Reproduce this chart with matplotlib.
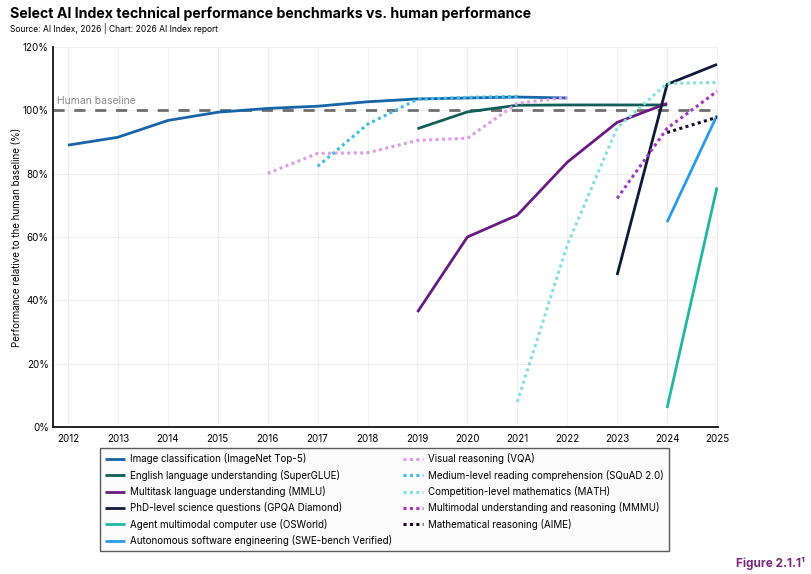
import matplotlib
matplotlib.use("Agg")
import matplotlib.pyplot as plt

plt.rcParams['font.family'] = ['Inter', 'DejaVu Sans']

years_imagenet = [2012, 2013, 2014, 2015, 2016, 2017, 2018, 2019, 2020, 2021, 2022]
imagenet = [89.0, 91.5, 96.8, 99.4, 100.6, 101.3, 102.7, 103.6, 103.9, 104.2, 103.9]

years_superglue = [2019, 2020, 2021, 2022, 2023, 2024]
superglue = [94.2, 99.5, 101.6, 101.7, 101.7, 101.7]

years_mmlu = [2019, 2020, 2021, 2022, 2023, 2024]
mmlu = [36.3, 60.0, 66.9, 83.6, 96.2, 102.2]

years_gpqa = [2023, 2024, 2025]
gpqa = [48.0, 108.2, 114.5]

years_osworld = [2024, 2025]
osworld = [6.0, 75.7]

years_swe = [2024, 2025]
swe = [64.7, 98.4]

years_vqa = [2016, 2017, 2018, 2019, 2020, 2021, 2022]
vqa = [80.1, 86.4, 86.6, 90.5, 91.2, 102.2, 104.1]

years_squad = [2017, 2018, 2019, 2020, 2021]
squad = [82.3, 95.6, 103.5, 104.1, 104.4]

years_math = [2021, 2022, 2023, 2024, 2025]
math_ = [7.9, 57.4, 94.5, 108.5, 108.8]

years_mmmu = [2023, 2024, 2025]
mmmu = [72.2, 94.3, 106.0]

years_aime = [2024, 2025]
aime = [93.0, 97.8]

solid_series = [
    ("Image classification (ImageNet Top-5)", years_imagenet, imagenet, "#1565a8"),
    ("English language understanding (SuperGLUE)", years_superglue, superglue, "#0f5e5a"),
    ("Multitask language understanding (MMLU)", years_mmlu, mmlu, "#6a1b82"),
    ("PhD-level science questions (GPQA Diamond)", years_gpqa, gpqa, "#0c1a3c"),
    ("Agent multimodal computer use (OSWorld)", years_osworld, osworld, "#1fb8a3"),
    ("Autonomous software engineering (SWE-bench Verified)", years_swe, swe, "#2a9be8"),
]
dotted_series = [
    ("Visual reasoning (VQA)", years_vqa, vqa, "#e29be9"),
    ("Medium-level reading comprehension (SQuAD 2.0)", years_squad, squad, "#40bde8"),
    ("Competition-level mathematics (MATH)", years_math, math_, "#84e0e2"),
    ("Multimodal understanding and reasoning (MMMU)", years_mmmu, mmmu, "#a633c4"),
    ("Mathematical reasoning (AIME)", years_aime, aime, "#1c0c28"),
]

x_ticks = list(range(2012, 2026))
y_ticks = [0, 20, 40, 60, 80, 100, 120]

fig = plt.figure(figsize=(8.12, 5.74), dpi=100)
ax = fig.add_axes([53/812, 1-427/574, (718-53)/812, (427-47)/574])

ax.axhline(100, color="#6e6e6e", lw=2.0, dashes=(4, 3.5), zorder=1)
ax.text(2011.78, 101.5, "Human baseline", color="#8a8a8a", fontsize=7.5, va="bottom", ha="left")

handles = []
for name, xs, ys, c in solid_series:
    h, = ax.plot(xs, ys, color=c, lw=2.0, label=name, solid_capstyle="butt", zorder=3)
    handles.append(h)
for name, xs, ys, c in dotted_series:
    h, = ax.plot(xs, ys, color=c, lw=2.2, linestyle=(0, (1, 1.1)), label=name, zorder=3)
    handles.append(h)

ax.set_xlim(2011.7, 2025.02)
ax.set_ylim(0, 120)
ax.set_xticks(x_ticks)
ax.set_xticklabels([str(y) for y in x_ticks], fontsize=7)
ax.set_yticks(y_ticks)
ax.set_yticklabels([f"{v}%" for v in y_ticks], fontsize=7)
ax.tick_params(axis="x", length=0, pad=5)
ax.tick_params(axis="y", length=0, pad=3)
ax.grid(True, color="#efefef", lw=0.8)
ax.set_axisbelow(True)
for s in ["top", "right"]:
    ax.spines[s].set_visible(False)
for s in ["left", "bottom"]:
    ax.spines[s].set_color("#222222")
    ax.spines[s].set_linewidth(1.4)
ax.set_ylabel("Performance relative to the human baseline (%)", fontsize=7.0, labelpad=0.5)

leg = fig.legend(handles=handles, ncol=2, fontsize=7.0, loc="upper left",
                 bbox_to_anchor=(100/812, 1-448/574), frameon=True, fancybox=False,
                 borderaxespad=0.0,
                 handlelength=2.0, handletextpad=0.5, columnspacing=1.2,
                 labelspacing=0.55, borderpad=0.55)
leg.get_frame().set_edgecolor("#333333")
leg.get_frame().set_linewidth(1.0)
leg.get_frame().set_facecolor("#fbfbfb")

fig.text(10/812, 1-14/574, "Select AI Index technical performance benchmarks vs. human performance",
         fontsize=10.2, fontweight="bold", va="center", ha="left")
fig.text(10/812, 1-28/574, "Source: AI Index, 2026 | Chart: 2026 AI Index report",
         fontsize=6.1, va="center", ha="left")
fig.text(805/812, 1-564/574, "Figure 2.1.1\u00b9", fontsize=8.5, fontweight="bold",
         color="#7b2a7b", va="center", ha="right")

fig.savefig("out.png", dpi=100)
